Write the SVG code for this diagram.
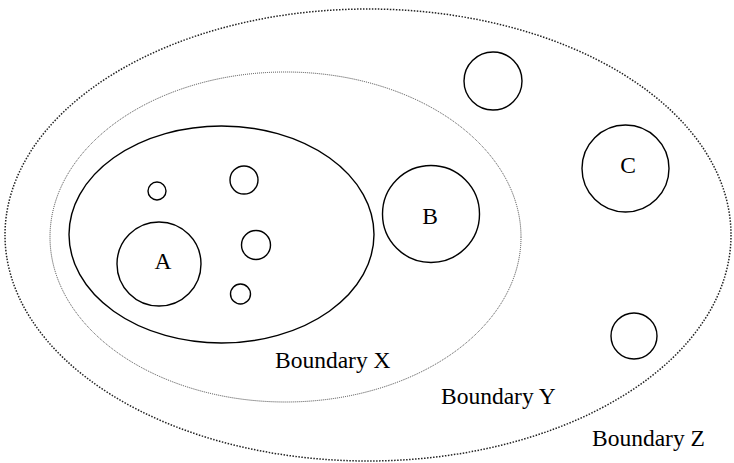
<svg xmlns="http://www.w3.org/2000/svg" width="734" height="463" viewBox="0 0 734 463">
<style>
.c{fill:none;stroke:#000;stroke-width:1.4}
.z{fill:none;stroke:#222;stroke-width:1.5;stroke-dasharray:1.5 1.5}
.y{fill:none;stroke:#444;stroke-width:1;stroke-dasharray:1 1}
text{font-family:"Liberation Serif","Times New Roman",serif;font-size:23.5px;fill:#000}
.m{text-anchor:middle}
</style>
<rect width="734" height="463" fill="#fff"/>
<g id="boundaryZ"><ellipse class="z" cx="368" cy="235" rx="363" ry="226"/><text x="592" y="446">Boundary Z</text></g>
<g id="boundaryY"><ellipse class="y" cx="285.5" cy="237" rx="235.5" ry="165"/><text x="441" y="404">Boundary Y</text></g>
<g id="boundaryX"><ellipse class="c" cx="221.5" cy="234.5" rx="152.5" ry="108.5"/><text x="275" y="368">Boundary X</text></g>
<g id="A"><circle class="c" cx="159" cy="264" r="42"/><text class="m" x="163" y="269">A</text></g>
<g id="B"><circle class="c" cx="431" cy="214" r="48.5"/><text class="m" x="430" y="224">B</text></g>
<g id="C"><circle class="c" cx="625.5" cy="168.5" r="43.5"/><text class="m" x="628" y="173">C</text></g>
<g id="n1"><circle class="c" cx="157" cy="191" r="9"/></g>
<g id="n2"><circle class="c" cx="244" cy="180" r="14"/></g>
<g id="n3"><circle class="c" cx="256" cy="245" r="14.5"/></g>
<g id="n4"><circle class="c" cx="240.5" cy="294" r="10"/></g>
<g id="n5"><circle class="c" cx="493" cy="81" r="29"/></g>
<g id="n6"><circle class="c" cx="634" cy="336" r="23"/></g>
<g id="connectors"/>
</svg>
